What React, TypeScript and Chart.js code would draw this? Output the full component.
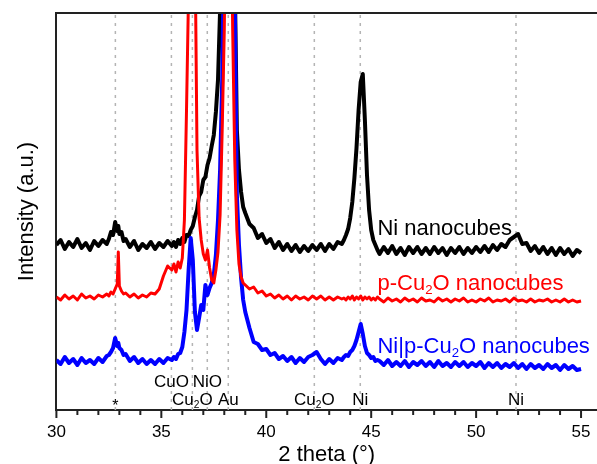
import { useEffect, useRef } from "react";
import { Chart, registerables } from "chart.js";

Chart.register(...registerables);

const FONT = "'Liberation Sans', Arial, Helvetica, sans-serif";

// 2θ sampling positions (degrees)
const angles: number[] = [
  30, 30.2, 30.4, 30.6, 30.8, 31, 31.2, 31.4, 31.6, 31.8, 32, 32.2, 32.4,
  32.5, 32.6, 32.7, 32.8, 32.9, 32.95, 33, 33.1, 33.2, 33.3,
  33.5, 33.7, 33.9, 34.1, 34.3, 34.5, 34.7, 34.9, 35.1, 35.3, 35.5,
  35.6, 35.7, 35.8, 35.9, 36, 36.1, 36.2, 36.3, 36.4, 36.5,
  36.6, 36.7, 36.8, 36.9, 37, 37.1, 37.2, 37.3, 37.4, 37.5,
  37.6, 37.7, 37.8, 37.9, 38, 38.1, 38.2, 38.3, 38.4, 38.5,
  38.6, 38.7, 38.8, 38.9, 39,
  39.2, 39.4, 39.6, 39.8, 40, 40.2, 40.4, 40.6, 40.8, 41,
  41.2, 41.4, 41.6, 41.8, 42, 42.2, 42.4, 42.6, 42.8, 43,
  43.2, 43.4, 43.6,
  43.7, 43.8, 43.9, 44, 44.1, 44.2, 44.3, 44.4, 44.5, 44.6,
  44.7, 44.8, 44.9, 45, 45.1, 45.2, 45.3,
  45.4, 45.6, 45.8, 46, 46.2, 46.4, 46.6, 46.8, 47, 47.2,
  47.4, 47.6, 47.8, 48, 48.2, 48.4, 48.6, 48.8, 49, 49.2,
  49.4, 49.6, 49.8, 50, 50.2, 50.4, 50.6, 50.8, 51, 51.2,
  51.4, 51.6, 51.8, 52, 52.2, 52.4, 52.6, 52.8, 53, 53.2,
  53.4, 53.6, 53.8, 54, 54.2, 54.4, 54.6, 54.8, 55,
];

// Ni nanocubes (black), offset intensity
const niNanocubes: number[] = [
  165, 170, 161, 168, 163, 171, 162, 167, 160, 169, 164, 170, 166,
  171, 178, 175, 188, 179, 184, 176, 178, 169, 171,
  163, 169, 160, 166, 162, 168, 161, 167, 163, 169, 164,
  168, 163, 170, 166, 172, 168, 175, 174, 180, 184,
  193, 200, 214, 218, 230, 233, 245, 252, 264, 275,
  298, 330, 400, 520, 600, 650, 660, 640, 560, 430,
  280, 240, 218, 203, 197,
  186, 182, 172, 176, 167, 171, 162, 168, 160, 166,
  159, 165, 158, 164, 159, 165, 160, 166, 159, 166,
  161, 168, 166,
  170, 175, 181, 192, 208, 232, 262, 300, 328, 336,
  290, 235, 200, 180, 170, 165, 160,
  156, 163, 157, 164, 156, 162, 155, 163, 157, 163,
  156, 162, 156, 163, 157, 162, 155, 162, 157, 163,
  156, 162, 157, 163, 158, 164, 158, 165, 160, 166,
  163, 170, 173, 176, 166, 167, 159, 164, 157, 163,
  156, 162, 155, 162, 156, 161, 154, 160, 157,
];

// p-Cu2O nanocubes (red)
const pCu2ONanocubes: number[] = [
  113, 110, 115, 111, 114, 110, 116, 112, 114, 111, 115, 113, 116,
  114, 118, 116, 121, 126, 158, 124, 119, 116, 117,
  113, 116, 112, 115, 113, 117, 116, 121, 134, 144, 140,
  146, 138, 148, 142, 152, 190, 300, 420, 600, 620,
  480, 260, 192, 170, 156, 150, 160, 142, 130, 127,
  140, 158, 195, 280, 380, 560, 650, 560, 380, 250,
  180, 146, 133, 127, 125,
  121, 123, 117, 119, 114, 116, 112, 115, 111, 114,
  110, 114, 111, 113, 110, 114, 111, 114, 110, 113,
  110, 113, 111,
  112, 110, 113, 111, 114, 110, 113, 111, 114, 110,
  113, 111, 113, 110, 112, 110, 113,
  111, 108, 112, 109, 111, 108, 112, 109, 111, 108,
  112, 109, 110, 108, 112, 109, 111, 108, 111, 109,
  112, 108, 110, 108, 111, 109, 112, 108, 110, 109,
  111, 108, 112, 109, 110, 108, 111, 108, 110, 109,
  111, 108, 110, 108, 111, 108, 110, 108, 109,
];

// Ni|p-Cu2O nanocubes (blue)
const niPCu2ONanocubes: number[] = [
  50, 46, 53, 47, 51, 45, 52, 47, 50, 46, 52, 48, 54,
  55, 58, 62, 72, 64, 67, 62, 60, 55, 56,
  49, 53, 47, 51, 46, 50, 46, 51, 47, 52, 50,
  53, 51, 56, 57, 63, 78, 100, 140, 172, 150,
  98, 80, 92, 105, 100, 125, 115, 122, 127, 135,
  155, 190, 240, 330, 480, 620, 650, 600, 520, 410,
  215, 165, 132, 110, 98,
  82, 68, 66, 60, 61, 55, 57, 51, 54, 49,
  53, 47, 52, 48, 53, 55, 58, 51, 46, 51,
  47, 52, 50,
  53, 55, 54, 58, 60, 64, 70, 78, 86, 76,
  64, 57, 55, 52, 53, 49, 50,
  49, 45, 50, 44, 48, 44, 49, 43, 48, 45,
  49, 44, 48, 43, 49, 44, 47, 43, 48, 44,
  48, 43, 47, 44, 48, 42, 47, 43, 47, 42,
  46, 43, 47, 42, 46, 41, 46, 42, 45, 41,
  46, 42, 45, 40, 45, 41, 44, 40, 41,
];

const seriesNames = ["Ni nanocubes", "p-Cu₂O nanocubes", "Ni|p-Cu₂O nanocubes"];
const seriesColors = ["#000000", "#ff0000", "#0000ff"];
const seriesWidths = [4, 3, 4];
const seriesLabelAngle = 45.3;
const seriesLabelLevels = [183, 128, 65];

// reference positions (dashed lines) and phase labels
const refLines = [32.81, 35.48, 36.48, 37.19, 38.19, 42.29, 44.48, 51.9];
const phaseLabels = ["*", "CuO", "Cu₂O", "NiO", "Au", "Cu₂O", "Ni", "Ni"];
const phaseRows = [1, 0, 1, 0, 1, 1, 1, 1];

function drawRich(
  ctx: CanvasRenderingContext2D,
  text: string,
  x: number,
  yCenter: number,
  size: number,
  align: "left" | "center",
  color: string
) {
  const segs: { t: string; sub: boolean }[] = [];
  text.split("₂").forEach((p, i) => {
    if (i > 0) segs.push({ t: "2", sub: true });
    if (p) segs.push({ t: p, sub: false });
  });
  const subSize = size * 0.6;
  const widths = segs.map((s) => {
    ctx.font = `${s.sub ? subSize : size}px ${FONT}`;
    return ctx.measureText(s.t).width;
  });
  const total = widths.reduce((a, b) => a + b, 0);
  let cx = align === "center" ? x - total / 2 : x;
  const baseline = yCenter + size * 0.36;
  ctx.fillStyle = color;
  ctx.textAlign = "left";
  ctx.textBaseline = "alphabetic";
  segs.forEach((s, i) => {
    ctx.font = `${s.sub ? subSize : size}px ${FONT}`;
    ctx.fillText(s.t, cx, s.sub ? baseline + size * 0.18 : baseline);
    cx += widths[i];
  });
}

const decorPlugin = {
  id: "xrdDecor",
  beforeDatasetsDraw(chart: any) {
    const { ctx, chartArea, scales } = chart;
    ctx.save();
    ctx.strokeStyle = "#b4b4b4";
    ctx.lineWidth = 1.5;
    ctx.setLineDash([3, 5]);
    refLines.forEach((v) => {
      const px = scales.x.getPixelForValue(v);
      ctx.beginPath();
      ctx.moveTo(px, chartArea.top + 2);
      ctx.lineTo(px, chartArea.bottom);
      ctx.stroke();
    });
    ctx.restore();
  },
  afterDraw(chart: any) {
    const { ctx, chartArea, scales } = chart;
    ctx.save();
    // top frame line
    ctx.strokeStyle = "#222";
    ctx.lineWidth = 2;
    ctx.beginPath();
    ctx.moveTo(chartArea.left - 1, chartArea.top);
    ctx.lineTo(chartArea.right, chartArea.top);
    ctx.stroke();
    // tick marks (major every 5, minor every 1)
    for (let v = 30; v <= 55; v += 1) {
      const px = scales.x.getPixelForValue(v);
      const len = v % 5 === 0 ? 8 : 5;
      ctx.beginPath();
      ctx.moveTo(px, chartArea.bottom);
      ctx.lineTo(px, chartArea.bottom + len);
      ctx.stroke();
    }
    // phase labels
    refLines.forEach((v, i) => {
      const px = scales.x.getPixelForValue(v);
      const label = phaseLabels[i];
      if (label === "*") {
        drawRich(ctx, label, px, chartArea.bottom - 5, 16, "center", "#000");
      } else {
        const y = phaseRows[i] === 0 ? chartArea.bottom - 29 : chartArea.bottom - 11;
        drawRich(ctx, label, px, y, 17, "center", "#000");
      }
    });
    // series labels
    seriesNames.forEach((name, i) => {
      const px = scales.x.getPixelForValue(seriesLabelAngle);
      const py = scales.y.getPixelForValue(seriesLabelLevels[i]);
      drawRich(ctx, name, px, py, 22, "left", seriesColors[i]);
    });
    ctx.restore();
  },
};

export default function App() {
  const canvasRef = useRef<HTMLCanvasElement | null>(null);

  useEffect(() => {
    document.body.style.margin = "0";
    const canvas = canvasRef.current;
    if (!canvas) return;
    const series = [niNanocubes, pCu2ONanocubes, niPCu2ONanocubes];
    const chart = new Chart(canvas, {
      type: "line",
      data: {
        datasets: series.map((vals, i) => ({
          label: seriesNames[i],
          data: angles.map((a, j) => ({ x: a, y: vals[j] })),
          borderColor: seriesColors[i],
          backgroundColor: seriesColors[i],
          borderWidth: seriesWidths[i],
          borderJoinStyle: "round",
          pointRadius: 0,
          tension: 0,
          fill: false,
          order: [2, 0, 1][i],
          clip: 0,
        })),
      },
      options: {
        animation: false,
        responsive: true,
        maintainAspectRatio: false,
        layout: { padding: { left: 0, top: 13, right: 0, bottom: 0 } },
        plugins: { legend: { display: false }, tooltip: { enabled: false } },
        scales: {
          x: {
            type: "linear",
            min: 30,
            max: 55.76,
            afterFit: (scale: any) => {
              scale.paddingLeft = 0;
              scale.paddingRight = 0;
            },
            ticks: {
              stepSize: 5,
              includeBounds: false,
              color: "#000",
              font: { size: 17, family: FONT },
              padding: 12,
              maxRotation: 0,
            },
            grid: { display: false, drawTicks: false },
            border: { display: true, color: "#222", width: 2 },
            title: {
              display: true,
              text: "2 theta (°)",
              color: "#000",
              font: { size: 22, family: FONT, lineHeight: 0.4545 },
              padding: { top: -4.4, bottom: 4 },
            },
          },
          y: {
            min: 0,
            max: 397,
            ticks: { display: false },
            grid: { display: false, drawTicks: false },
            border: { display: true, color: "#222", width: 2 },
            title: {
              display: true,
              text: "Intensity (a.u.)",
              color: "#000",
              font: { size: 22, family: FONT },
              padding: { top: 14, bottom: 16 },
            },
          },
        },
      },
      plugins: [decorPlugin],
    } as any);
    return () => chart.destroy();
  }, []);

  return (
    <div style={{ position: "relative", width: "597px", height: "464px" }}>
      <canvas ref={canvasRef} />
    </div>
  );
}
